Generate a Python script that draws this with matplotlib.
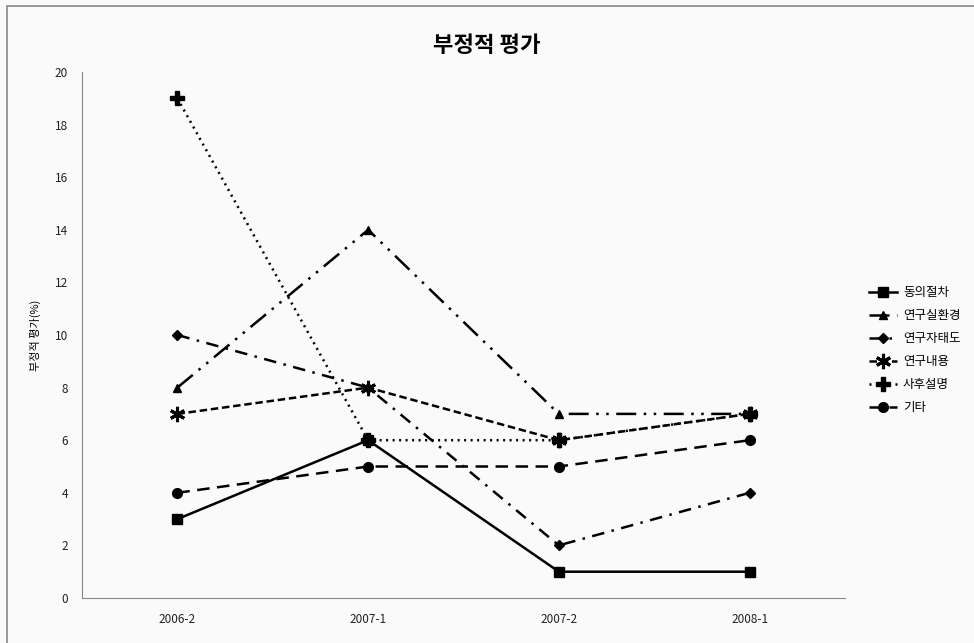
import matplotlib.pyplot as plt
from matplotlib.patches import Rectangle

plt.rcParams['font.family'] = ['Noto Sans CJK KR', 'DejaVu Sans']

periods = ['2006-2', '2007-1', '2007-2', '2008-1']
series_names = ['동의절차', '연구실환경', '연구자태도', '연구내용', '사후설명', '기타']
consent = [3, 6, 1, 1]
lab_env = [8, 14, 7, 7]
attitude = [10, 8, 2, 4]
content = [7, 8, 6, 7]
debrief = [19, 6, 6, 7]
etc = [4, 5, 5, 6]

values = [consent, lab_env, attitude, content, debrief, etc]
styles = [
    dict(ls='-', marker='s', ms=7),
    dict(ls=(0, (8, 3, 1, 3, 1, 3)), marker='^', ms=6),
    dict(ls=(0, (5, 3, 1, 3)), marker='D', ms=5),
    dict(ls=(0, (3, 1.5)), marker=(6, 2, 0), ms=11, mew=2.2),
    dict(ls=(0, (0.8, 1.8)), marker='P', ms=10),
    dict(ls=(0, (5, 3)), marker='o', ms=7),
]

fig = plt.figure(figsize=(9.74, 6.43), dpi=100)
fig.patch.set_facecolor('#fafafa')
fig.patches.append(Rectangle((7 / 974, -0.05), 1.1, 1 - 6 / 643 + 0.05,
                             transform=fig.transFigure, fill=False,
                             edgecolor='#888888', lw=1.2))

ax = fig.add_axes([82 / 974, 1 - 598 / 643, (845 - 82) / 974, (598 - 72) / 643])
ax.set_facecolor('#fafafa')

x = range(len(periods))
for name, vals, st in zip(series_names, values, styles):
    ax.plot(x, vals, color='black', lw=1.8, label=name, **st)

ax.set_xlim(-0.5, 3.5)
ax.set_ylim(0, 20)
ax.set_yticks(range(0, 21, 2))
ax.set_xticks(list(x))
ax.set_xticklabels(periods)
ax.tick_params(length=0, labelsize=8.5, colors='#222222')
ax.tick_params(axis='y', pad=10)
ax.tick_params(axis='x', pad=11)
for s in ['top', 'right']:
    ax.spines[s].set_visible(False)
for s in ['left', 'bottom']:
    ax.spines[s].set_color('#888888')

ax.set_ylabel('부정적 평가(%)', fontsize=8, labelpad=10)
fig.text(0.5, 1 - 45 / 643, '부정적 평가', ha='center', va='center',
         fontsize=16, fontweight='bold')

ax.legend(loc='center left', bbox_to_anchor=(858 / 974, 1 - 350 / 643),
          bbox_transform=fig.transFigure, frameon=False, fontsize=9,
          handlelength=2.2, handletextpad=0.5, labelspacing=0.8)

fig.savefig('out.png', dpi=100, facecolor=fig.get_facecolor())
